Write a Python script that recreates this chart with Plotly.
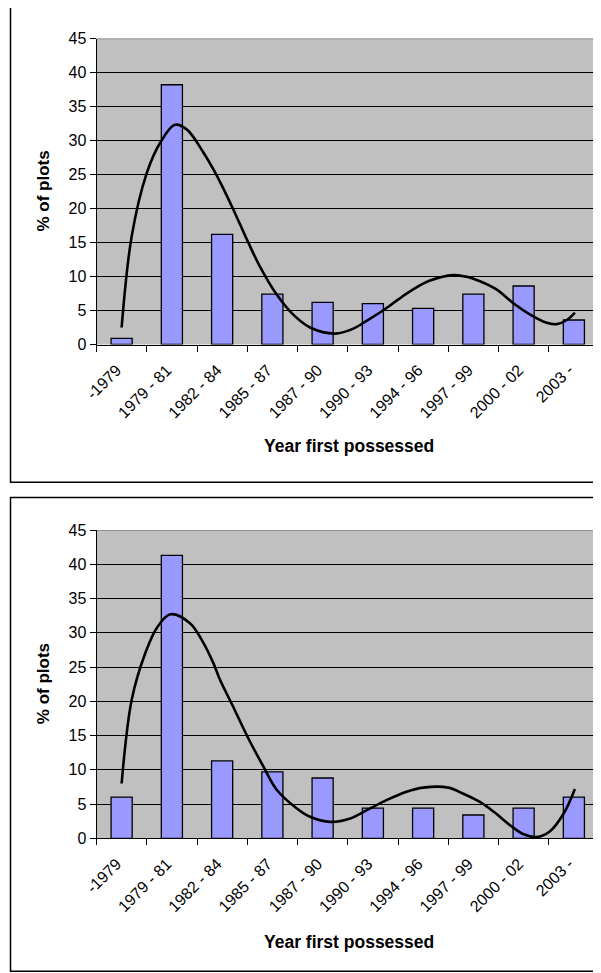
import plotly.graph_objects as go

# ---------------- data ----------------
categories = ["-1979", "1979 - 81", "1982 - 84", "1985 - 87", "1987 - 90",
              "1990 - 93", "1994 - 96", "1997 - 99", "2000 - 02", "2003 -"]

values_top = [0.9, 38.2, 16.2, 7.4, 6.2, 6.0, 5.3, 7.4, 8.6, 3.6]
values_bottom = [6.0, 41.3, 11.3, 9.7, 8.8, 4.4, 4.4, 3.4, 4.4, 6.0]

# smoothed curve (x in category units, 1 = first category)
curve_top_x = [1.0, 1.2, 1.5, 1.77, 2.06, 2.3, 2.63, 2.83, 3.0, 3.22, 3.52, 3.75,
               4.09, 4.4, 4.75, 5.25, 5.6, 5.9, 6.2, 6.5, 6.8, 7.14, 7.6, 7.87,
               8.13, 8.46, 8.79, 9.13, 9.46, 9.66, 9.86, 10.02]
curve_top_y = [2.5, 15.9, 25.2, 29.7, 32.3, 31.6, 28.2, 25.7, 23.3, 19.9, 15.0, 11.5,
               7.3, 4.5, 2.5, 1.6, 2.3, 3.6, 5.0, 6.6, 8.1, 9.4, 10.2, 9.95,
               9.3, 8.1, 6.1, 4.4, 3.2, 3.0, 3.6, 4.7]

curve_bottom_x = [1.0, 1.2, 1.47, 1.7, 1.97, 2.36, 2.63, 2.83, 2.96, 3.22, 3.52, 3.82,
                  4.09, 4.48, 4.75, 5.15, 5.55, 5.88, 6.28, 6.67, 7.0, 7.5, 7.8,
                  8.13, 8.4, 8.73, 9.0, 9.26, 9.52, 9.8, 10.02]
curve_bottom_y = [8.0, 20.2, 27.0, 30.7, 32.7, 31.4, 28.5, 25.5, 23.1, 19.2, 14.6, 10.5,
                  7.05, 4.4, 3.15, 2.4, 2.9, 4.1, 5.6, 6.8, 7.4, 7.4, 6.5,
                  5.3, 3.9, 1.9, 0.6, 0.2, 1.0, 3.65, 7.2]

y_ticks = [0, 5, 10, 15, 20, 25, 30, 35, 40, 45]
y_title = "% of plots"
x_title = "Year first possessed"

# ---------------- layout helpers ----------------
# the page body has an 8px margin; the figure is sized so it fills the window
OFF = 8
W, H = 601 - OFF, 973 - OFF
def fx(p):
    return (p - OFF) / W
def fy(p):
    return 1 - (p - OFF) / H

positions = list(range(1, len(categories) + 1))
boundaries = [p - 0.5 for p in positions] + [positions[-1] + 0.5]

FONT = "Liberation Sans, Arial, sans-serif"
BAR_COLOR = "#9999FF"

fig = go.Figure()

panels = [
    dict(vals=values_top, cx=curve_top_x, cy=curve_top_y, xa="x", ya="y",
         top=38.5, bottom=344.5, box=(6.5, 482.3), xtitle_y=446),
    dict(vals=values_bottom, cx=curve_bottom_x, cy=curve_bottom_y, xa="x2", ya="y2",
         top=530.0, bottom=838.3, box=(497.5, 971.3), xtitle_y=942),
]

plot_left, plot_right = 96.5, 599.0

shapes = []
annotations = []
for i, p in enumerate(panels):
    fig.add_trace(go.Bar(
        x=positions, y=p["vals"], width=0.42,
        marker=dict(color=BAR_COLOR, line=dict(color="black", width=1.3)),
        xaxis=p["xa"], yaxis=p["ya"], showlegend=False, hoverinfo="skip"))
    fig.add_trace(go.Scatter(
        x=p["cx"], y=p["cy"], mode="lines",
        line=dict(color="black", width=2.6, shape="spline", smoothing=1.0),
        xaxis=p["xa"], yaxis=p["ya"], showlegend=False, hoverinfo="skip"))

    suffix = "" if i == 0 else "2"
    xdom = [fx(plot_left), min(fx(plot_right), 1.0)]
    ydom = [fy(p["bottom"]), fy(p["top"])]
    fig.layout["xaxis" + suffix] = dict(
        domain=xdom, anchor=p["ya"], range=[0.5, len(categories) + 0.5],
        tickmode="array", tickvals=positions, ticktext=categories,
        tickangle=-45, ticks="", showgrid=False, zeroline=False,
        showline=True, linecolor="black", linewidth=1,
        ticklabelstandoff=9, ticklabelshift=-5,
        tickfont=dict(family=FONT, size=16, color="black"),
        minor=dict(tickmode="array", tickvals=boundaries, ticks="outside",
                   ticklen=6, tickcolor="black", tickwidth=1, showgrid=False),
        fixedrange=True, automargin=False)
    fig.layout["yaxis" + suffix] = dict(
        domain=ydom, anchor=p["xa"], range=[0, 45],
        tickmode="array", tickvals=y_ticks, ticks="outside", ticklen=6,
        tickcolor="black", showgrid=True, gridcolor="black", gridwidth=1,
        zeroline=False, showline=True, linecolor="black", linewidth=1,
        tickfont=dict(family=FONT, size=16, color="black"),
        fixedrange=True, automargin=False)

    # grey top/right edges of plot area
    shapes.append(dict(type="line", xref=p["xa"], yref=p["ya"],
                       x0=0.5, x1=len(categories) + 0.5, y0=45, y1=45,
                       line=dict(color="#808080", width=1.5), layer="above"))
    shapes.append(dict(type="line", xref=p["xa"], yref=p["ya"],
                       x0=len(categories) + 0.5, x1=len(categories) + 0.5, y0=0, y1=45,
                       line=dict(color="#808080", width=1.5), layer="above"))
    # outer chart border
    shapes.append(dict(type="rect", xref="paper", yref="paper",
                       x0=fx(10.5), x1=1.05, y0=fy(p["box"][1]), y1=fy(p["box"][0]),
                       line=dict(color="black", width=1.5), layer="above"))
    annotations.append(dict(text="<b>" + y_title + "</b>", textangle=-90,
                            xref="paper", yref="paper",
                            x=fx(43), y=fy((p["top"] + p["bottom"]) / 2),
                            xanchor="center", yanchor="middle", showarrow=False,
                            font=dict(family=FONT, size=17, color="black")))
    annotations.append(dict(text="<b>" + x_title + "</b>",
                            xref="paper", yref="paper",
                            x=fx(349), y=fy(p["xtitle_y"]),
                            xanchor="center", yanchor="middle", showarrow=False,
                            font=dict(family=FONT, size=17.5, color="black")))

fig.update_layout(
    width=W, height=H, margin=dict(l=0, r=0, t=0, b=0),
    paper_bgcolor="white", plot_bgcolor="#C0C0C0",
    bargap=0.58, shapes=shapes, annotations=annotations,
    font=dict(family=FONT, color="black"))

fig.write_html("out.html")
